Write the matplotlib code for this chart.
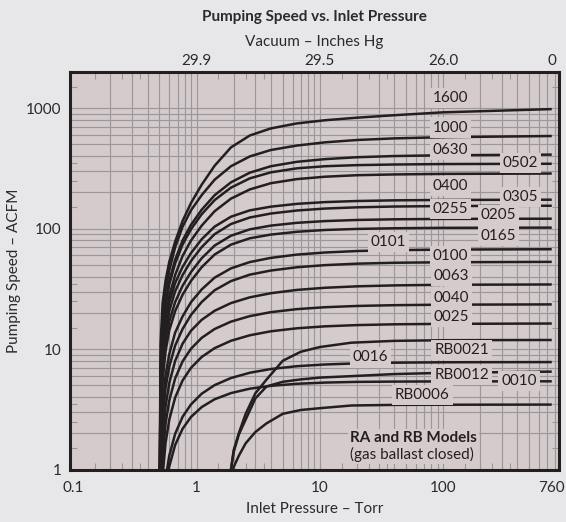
import matplotlib.pyplot as plt
from matplotlib.ticker import FixedLocator, NullFormatter, NullLocator

plt.rcParams['font.family'] = ['Lato', 'DejaVu Sans']

ra_pressure = [0.5, 0.51, 0.53, 0.56, 0.6, 0.67, 0.77, 0.9, 1.1, 1.4, 1.9, 2.7, 4, 6.5, 11, 20, 40, 100, 760]

# pumping speed (ACFM) for each RA model at those pressures
s1600 = [0.3, 11, 24, 37, 53, 78, 116, 163, 232, 333, 473, 594, 680, 748, 795, 835, 875, 925, 984]
s1000 = [0.3, 7.5, 18, 31, 45, 70, 104, 142, 190, 255, 330, 398, 450, 490, 521, 545, 562, 575, 588]
s0630 = [0.3, 5.8, 14.3, 24.6, 36.8, 55.3, 79.9, 107.5, 143.7, 189.6, 242.5, 291.7, 330, 359, 378, 392, 401, 407, 412]
s0502 = [0.3, 5.4, 13.5, 23.0, 34.4, 51.5, 73.9, 98.9, 131.8, 172.7, 219.2, 261.6, 293.5, 317, 330, 337, 341, 344, 346]
s0400 = [0.3, 4.3, 10.8, 18.4, 27.5, 41.3, 59.4, 79.6, 106, 139.6, 177.6, 211.7, 238.5, 258, 270, 278, 282, 285, 287]
s0305 = [0.3, 3.3, 9.2, 16.4, 24.4, 35.4, 48.2, 62.7, 81.7, 104, 125.7, 141.9, 152.3, 160.7, 166.2, 169.7, 171.9, 173.2, 174]
s0255 = [0.3, 2.8, 7.8, 13.9, 20.7, 30.2, 41.2, 53.8, 70.3, 90, 109.3, 123.8, 133.6, 141.5, 146.9, 150.4, 152.7, 154.1, 155]
s0205 = [0.3, 2.3, 6.4, 11.4, 17.0, 24.6, 33.6, 43.6, 56.8, 72.4, 87.4, 98.7, 106, 111.8, 115.6, 118.1, 119.6, 120.5, 121]
s0165 = [0.3, 1.94, 5.4, 9.6, 14.3, 20.7, 28.3, 36.8, 47.9, 61, 73.7, 83.2, 89.3, 94.2, 97.5, 99.5, 100.8, 101.6, 102]
s0101 = [0.3, 1.18, 3.28, 6.04, 9.08, 13.7, 18.7, 24.5, 31.3, 39.2, 46.8, 52.8, 57.2, 60.9, 63.4, 65.2, 66.3, 67.0, 67.5]
s0100 = [0.3, 0.92, 2.57, 4.74, 7.15, 10.7, 14.7, 19.2, 24.6, 30.8, 36.7, 41.5, 44.9, 47.8, 49.8, 51.2, 52.1, 52.6, 53]
s0063 = [0.3, 0.61, 1.76, 3.34, 5.21, 7.98, 11.1, 14.2, 17.5, 20.8, 24.1, 26.9, 29.1, 31.0, 32.3, 33.2, 33.8, 34.2, 34.4]
s0040 = [0.3, 0.44, 1.27, 2.4, 3.74, 5.71, 7.91, 10.06, 12.4, 14.68, 16.9, 18.78, 20.26, 21.46, 22.27, 22.81, 23.15, 23.37, 23.5]
s0025 = [0.1, 0.30, 0.88, 1.66, 2.59, 3.96, 5.49, 6.98, 8.6, 10.18, 11.72, 13.02, 14.05, 14.88, 15.45, 15.82, 16.06, 16.2, 16.3]
s0016 = [0.1, 0.15, 0.44, 0.84, 1.30, 1.98, 2.74, 3.47, 4.26, 5.02, 5.75, 6.36, 6.83, 7.21, 7.45, 7.61, 7.71, 7.77, 7.8]
s0010 = [0.1, 0.13, 0.37, 0.69, 1.06, 1.6, 2.18, 2.73, 3.3, 3.83, 4.31, 4.69, 4.95, 5.15, 5.27, 5.34, 5.37, 5.39, 5.4]

# RB models start later
rb_pressure = [1.8, 1.9, 2.0, 2.2, 2.5, 3.0, 3.7, 5, 7, 10, 18, 40, 100, 760]
rb0021 = [0.3, 1.0, 1.45, 2.0, 2.9, 4.3, 5.6, 8.0, 9.5, 10.4, 11.3, 11.7, 11.85, 11.9]
rb0012 = [0.3, 1.0, 1.4, 1.95, 2.6, 3.9, 4.9, 5.35, 5.6, 5.8, 5.96, 6.2, 6.35, 6.5]
rb0006 = [0.3, 0.8, 1.05, 1.3, 1.65, 2.05, 2.42, 2.9, 3.12, 3.23, 3.4, 3.44, 3.45, 3.46]

ra_curves = [s1600, s1000, s0630, s0502, s0400, s0305, s0255, s0205, s0165,
             s0101, s0100, s0063, s0040, s0025, s0016, s0010]
rb_curves = [rb0021, rb0012, rb0006]

# curve labels and where they sit (pressure, speed)
labels = ['1600', '1000', '0630', '0502', '0400', '0305', '0255', '0205', '0165', '0101',
          '0100', '0063', '0040', '0025', 'RB0021', '0016', 'RB0012', '0010', 'RB0006']
label_pos = [(115, 1220), (115, 692), (115, 454), (424, 351), (115, 228), (424, 182),
             (115, 145), (281, 129), (281, 87.7), (35.9, 77.3), (115, 59.5), (117, 40.7),
             (117, 26.8), (117, 18.6), (141, 9.76), (25.7, 8.52), (141, 6.09), (411, 5.46),
             (67.6, 4.19)]

x_ticks = [0.1, 1, 10, 100, 760]
x_ticklabels = ['0.1', '1', '10', '100', '760']
vac_ticklabels = ['29.9', '29.5', '26.0', '0']
y_ticks = [1, 10, 100, 1000]

bg = '#d5cbcc'
ink = '#231f20'
txt = '#2a2a2a'
gridc = '#9a989a'
fs = 11

fig = plt.figure(figsize=(5.66, 5.22), dpi=100, facecolor='#e7e7e9')
ax = fig.add_axes([70 / 566, 52.5 / 522, 489 / 566, 397.5 / 522])
ax.set_facecolor(bg)
ax.set_xscale('log')
ax.set_yscale('log')
ax.set_xlim(0.094, 870)
ax.set_ylim(1, 2000)

# graph paper grid
for n in [0.1, 1, 10, 100]:
    for k in range(1, 10):
        v = k * n
        if 0.11 < v < 860:
            ax.axvline(v, color=gridc, lw=0.85, zorder=1)
for n in [1, 10, 100, 1000]:
    for k in range(1, 10):
        v = k * n
        if 1.01 < v < 1990:
            ax.axhline(v, color=gridc, lw=0.85, zorder=1)

for s in ra_curves:
    ax.plot(ra_pressure, s, color=ink, lw=1.8, zorder=3, solid_capstyle='butt')
for s in rb_curves:
    ax.plot(rb_pressure, s, color=ink, lw=1.8, zorder=3, solid_capstyle='butt')

for lab, (px, py) in zip(labels, label_pos):
    ax.text(px, py, lab, fontsize=fs, color=ink, ha='center', va='center', zorder=5,
            bbox=dict(boxstyle='square,pad=0.2', fc=bg, ec='none'))

ax.text(0.5726, 0.080, 'RA and RB Models', transform=ax.transAxes, fontsize=fs,
        fontweight='bold', color=ink, ha='left', va='center', zorder=5,
        bbox=dict(boxstyle='square,pad=0.12', fc=bg, ec='none'))
ax.text(0.5726, 0.037, '(gas ballast closed)', transform=ax.transAxes, fontsize=fs,
        color=ink, ha='left', va='center', zorder=5,
        bbox=dict(boxstyle='square,pad=0.12', fc=bg, ec='none'))

ax.set_xticks(x_ticks, labels=x_ticklabels)
ax.set_yticks(y_ticks, labels=[str(v) for v in y_ticks])
half_steps = [0.15, 0.25, 0.35, 1.5, 2.5, 3.5, 15, 25, 35, 150, 250, 350]
ax.xaxis.set_minor_locator(FixedLocator(half_steps))
ax.yaxis.set_minor_locator(FixedLocator([1.5, 2.5, 3.5, 15, 25, 35, 150, 250, 350, 1500]))
ax.xaxis.set_minor_formatter(NullFormatter())
ax.yaxis.set_minor_formatter(NullFormatter())
ax.tick_params(which='major', length=0, labelsize=fs, colors=txt)
ax.tick_params(axis='x', which='major', pad=8)
ax.tick_params(axis='y', which='major', pad=6)
ax.tick_params(which='minor', direction='in', length=5, width=0.8, color=gridc,
               top=True, right=True)
for sp in ax.spines.values():
    sp.set_linewidth(2.2)
    sp.set_color(ink)
    sp.set_zorder(6)

sec = ax.secondary_xaxis('top')
sec.set_xticks(x_ticks[1:], labels=vac_ticklabels)
sec.xaxis.set_minor_locator(NullLocator())
sec.tick_params(length=0, pad=3, labelsize=fs, colors=txt)
for sp in sec.spines.values():
    sp.set_visible(False)

ax.set_xlabel('Inlet Pressure – Torr', fontsize=fs, color=txt, labelpad=5)
ax.set_ylabel('Pumping Speed – ACFM', fontsize=fs, color=txt, labelpad=4)
fig.text(314.5 / 566, 1 - 42 / 522, 'Vacuum – Inches Hg', fontsize=fs, color=txt,
         ha='center', va='center')
fig.text(314.5 / 566, 1 - 17 / 522, 'Pumping Speed vs. Inlet Pressure', fontsize=fs,
         fontweight='bold', color=txt, ha='center', va='center')

fig.savefig('out.png', dpi=100, facecolor=fig.get_facecolor())
